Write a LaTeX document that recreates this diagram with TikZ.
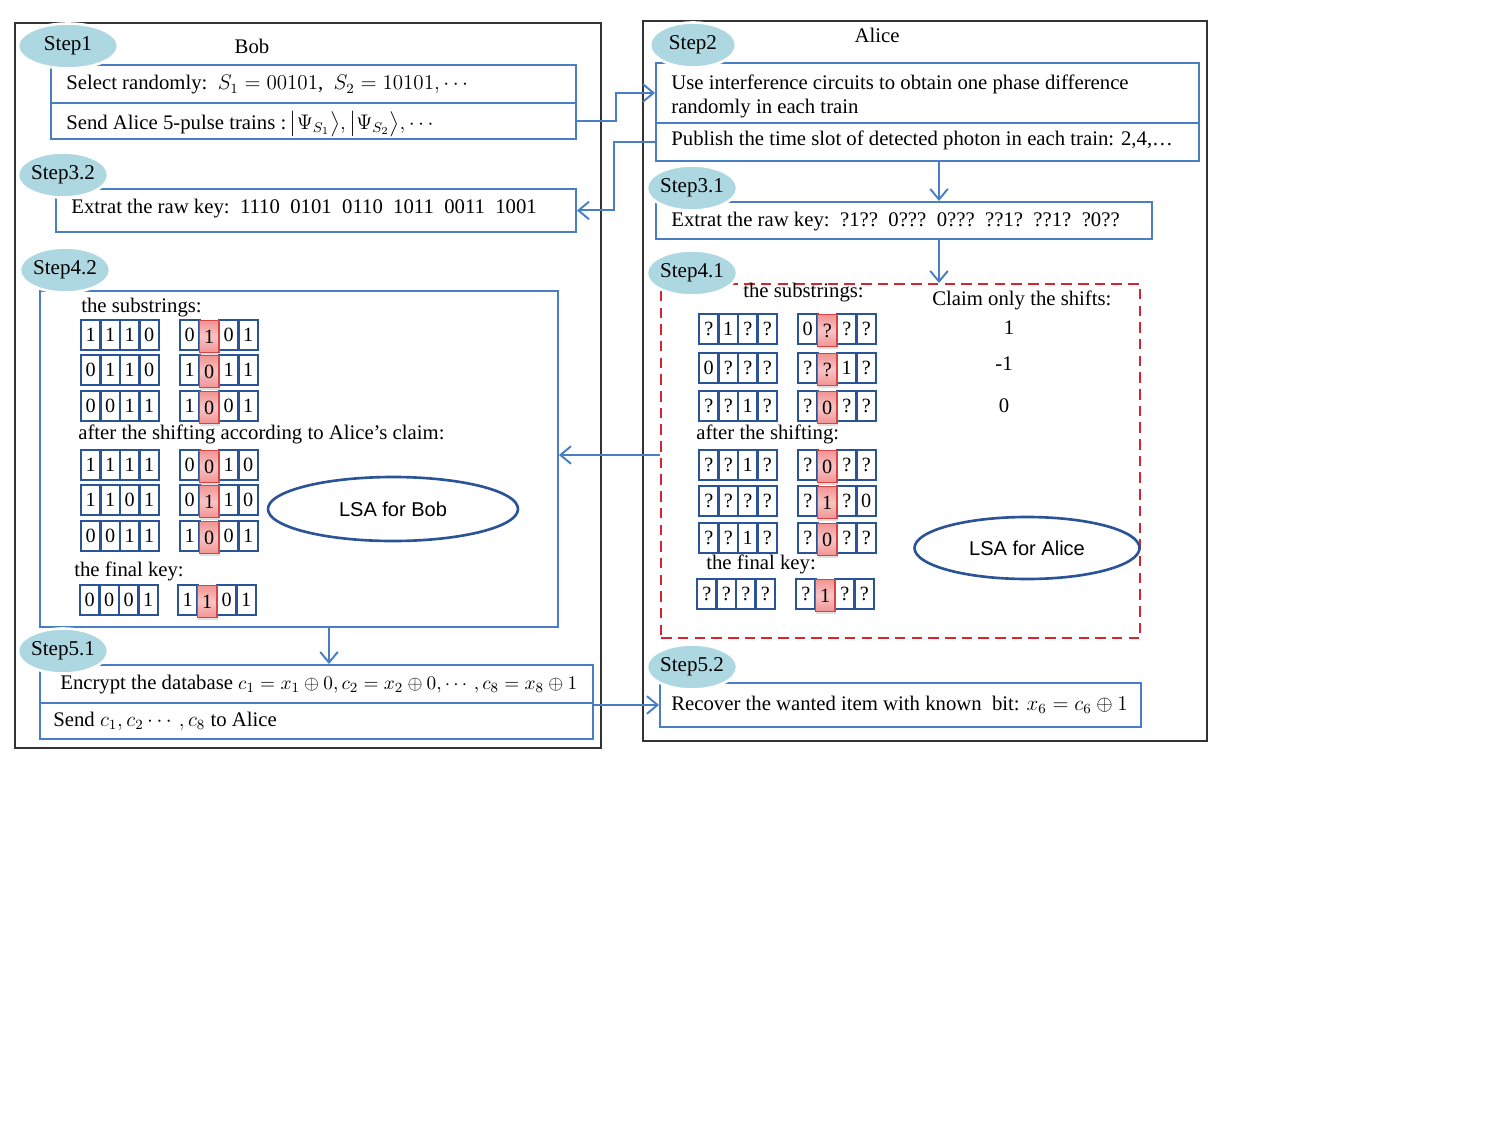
\documentclass[tikz,border=0pt]{standalone}
\usepackage{fontspec}
\setmainfont{Liberation Serif}
\setsansfont{Liberation Sans}
\usepackage{amsmath}
\usetikzlibrary{positioning, shapes.geometric, arrows.meta, shadows}
\definecolor{framegray}{HTML}{333333}
\definecolor{boxblue}{HTML}{4A7EC4}
\definecolor{cellblue}{HTML}{2A5496}
\definecolor{steplight}{HTML}{ADD8E2}
\definecolor{dashred}{HTML}{D9232E}
\definecolor{hlborder}{HTML}{D64545}
\definecolor{hltop}{HTML}{F29393}
\definecolor{hlmid}{HTML}{F8C4C4}

% one pixel of the layout
\newcommand{\pxu}{0.02cm}
% math a little smaller than the text
\newcommand{\smallmath}[1]{{\fontsize{11}{13}\selectfont$#1$}}
% a group of four bit cells, #5 = index of the marked cell (-1: none)
\newcommand{\bitgroup}[5]{%
  \foreach \d [count=\i from 0] in {#4} {%
    \ifnum\i=#5\else \node[bitcell] (#1-\i) at ({#2+9.75+19.5*\i},#3) {\d};\fi}
  \foreach \d [count=\i from 0] in {#4} {%
    \ifnum\i=#5 \node[hlcell] (#1-\i) at ({#2+9.75+19.5*\i},#3+1.5) {\d};\fi}
}

\begin{document}
\begin{tikzpicture}[x=0.02cm, y=-0.02cm, font=\fontsize{11.8}{14}\selectfont,
    frame/.style={draw=framegray, line width=1.1pt, rectangle, anchor=north west, inner sep=0},
    bluebox/.style={draw=boxblue, line width=1.1pt, rectangle, anchor=north west, inner sep=0},
    redbox/.style={draw=dashred, line width=1.4pt, dash pattern=on 6pt off 3.5pt, rectangle, anchor=north west, inner sep=0},
    stepell/.style={ellipse, fill=steplight, draw=white, line width=1.5pt, inner sep=0,
      minimum width=90*\pxu, minimum height=45*\pxu, font=\fontsize{12}{14}\selectfont},
    txt/.style={anchor=west, inner sep=0},
    bitcell/.style={draw=cellblue, line width=1.3pt, minimum width=19.5*\pxu, minimum height=30*\pxu, inner sep=0,
      font=\fontsize{11.5}{13}\selectfont},
    hlcell/.style={draw=hlborder, line width=1pt, top color=hltop, bottom color=hltop, middle color=hlmid,
      minimum width=19.5*\pxu, minimum height=32*\pxu, inner sep=0, font=\fontsize{11.5}{13}\selectfont,
      drop shadow={opacity=0.25, shadow xshift=0.4pt, shadow yshift=-1.2pt}},
    lsa/.style={ellipse, draw=cellblue, line width=1.5pt, inner sep=0, font=\sffamily\fontsize{11.4}{13}\selectfont},
    link/.style={draw=boxblue, line width=1.1pt, -{Straight Barb[length=6pt, width=10pt]}}]

  \useasboundingbox (0,0) rectangle (1500,1125);

  % outer frames
  \node[frame, minimum width=586*\pxu, minimum height=725*\pxu] (bob) at (14,22) {};
  \node[frame, minimum width=564*\pxu, minimum height=720*\pxu] (alice) at (642,20) {};

  % step boxes
  \node[bluebox, minimum width=525*\pxu, minimum height=38*\pxu] (b1a) at (50,64) {};
  \node[bluebox, minimum width=525*\pxu, minimum height=36*\pxu] (b1b) at (50,102) {};
  \node[bluebox, minimum width=543*\pxu, minimum height=60*\pxu] (b2a) at (655,62) {};
  \node[bluebox, minimum width=543*\pxu, minimum height=38*\pxu] (b2b) at (655,122) {};
  \node[bluebox, minimum width=520*\pxu, minimum height=43*\pxu] (b32) at (55,188) {};
  \node[bluebox, minimum width=496*\pxu, minimum height=37*\pxu] (b31) at (655,201) {};
  \node[bluebox, minimum width=518*\pxu, minimum height=336*\pxu] (b42) at (39,290) {};
  \node[redbox, minimum width=479*\pxu, minimum height=354*\pxu] (b41) at (660,283) {};
  \node[bluebox, minimum width=553*\pxu, minimum height=38*\pxu] (b51a) at (39,664) {};
  \node[bluebox, minimum width=553*\pxu, minimum height=36*\pxu] (b51b) at (39,702) {};
  \node[bluebox, minimum width=481*\pxu, minimum height=44*\pxu] (b52) at (659,682) {};

  % step labels
  \node[stepell, minimum width=100*\pxu] (s1) at (68,46) {Step1};
  \node[stepell, minimum width=86*\pxu] (s2) at (693,45) {Step2};
  \node[stepell] (s32) at (63,175) {Step3.2};
  \node[stepell, minimum width=86*\pxu] (s31) at (692,188) {Step3.1};
  \node[stepell] (s42) at (65,270) {Step4.2};
  \node[stepell] (s41) at (692,273) {Step4.1};
  \node[stepell] (s51) at (63,651) {Step5.1};
  \node[stepell, minimum width=88*\pxu] (s52) at (692,667) {Step5.2};

  \node (bobname) at (252,46) {Bob};
  \node (alicename) at (877,35) {Alice};

  % texts in the boxes
  \node[txt] (t1a) at (66,85) {Select randomly:\ \ $S_1=00101$,\ \ $S_2=10101,\cdots$};
  \node[txt] (t1b) at (66,124) {Send Alice 5-pulse trains :\,$\bigl|\Psi_{S_1}\bigr\rangle,\bigl|\Psi_{S_2}\bigr\rangle,\cdots$};
  \node[txt] (t2a) at (671,84) {Use interference circuits to obtain one phase difference};
  \node[txt] (t2c) at (671,109) {randomly in each train};
  \node[txt] (t2b) at (671,140) {Publish the time slot of detected photon in each train: 2,4,\ldots};
  \node[txt] (t32) at (71,209) {Extrat the raw key:\ \ 1110\ \ 0101\ \ 0110\ \ 1011\ \ 0011\ \ 1001};
  \node[txt] (t31) at (671,222) {Extrat the raw key:\ \ ?1??\ \ 0???\ \ 0???\ \ ??1?\ \ ??1?\ \ ?0??};
  \node[txt] (t51a) at (60,685) {Encrypt the database \smallmath{c_1=x_1\oplus 0,c_2=x_2\oplus 0,\cdots,c_8=x_8\oplus 1}};
  \node[txt] (t51b) at (53,721) {Send $c_1,c_2\cdots,c_8$ to Alice};
  \node[txt] (t52) at (671,705) {Recover the wanted item with known\ \ bit: $x_6=c_6\oplus 1$};

  % Bob: substrings
  \node[txt] (bsub) at (81,308) {the substrings:};
  \bitgroup{bs1l}{81}{335}{1,1,1,0}{-1}
  \bitgroup{bs1r}{180}{335}{0,1,0,1}{1}
  \bitgroup{bs2l}{81}{370}{0,1,1,0}{-1}
  \bitgroup{bs2r}{180}{370}{1,0,1,1}{1}
  \bitgroup{bs3l}{81}{406}{0,0,1,1}{-1}
  \bitgroup{bs3r}{180}{406}{1,0,0,1}{1}
  \node[txt] (bshift) at (78,434) {after the shifting according to Alice’s claim:};
  \bitgroup{bh1l}{81}{465}{1,1,1,1}{-1}
  \bitgroup{bh1r}{180}{465}{0,0,1,0}{1}
  \bitgroup{bh2l}{81}{500}{1,1,0,1}{-1}
  \bitgroup{bh2r}{180}{500}{0,1,1,0}{1}
  \bitgroup{bh3l}{81}{536}{0,0,1,1}{-1}
  \bitgroup{bh3r}{180}{536}{1,0,0,1}{1}
  \node[txt] (bfinal) at (74,571) {the final key:};
  \bitgroup{bfl}{80}{600}{0,0,0,1}{-1}
  \bitgroup{bfr}{178}{600}{1,1,0,1}{1}
  \node[lsa, minimum width=250*\pxu, minimum height=64*\pxu] (lsabob) at (393,509) {LSA for Bob};

  % Alice: substrings
  \node[txt] (asub) at (743,293) {the substrings:};
  \node[txt] (aclaim) at (932,300) {Claim only the shifts:};
  \node (sh1) at (1009,328) {1};
  \node (sh2) at (1004,364) {-1};
  \node (sh3) at (1004,406) {0};
  \bitgroup{as1l}{699}{329}{?,1,?,?}{-1}
  \bitgroup{as1r}{798}{329}{0,?,?,?}{1}
  \bitgroup{as2l}{699}{368}{0,?,?,?}{-1}
  \bitgroup{as2r}{798}{368}{?,?,1,?}{1}
  \bitgroup{as3l}{699}{406}{?,?,1,?}{-1}
  \bitgroup{as3r}{798}{406}{?,0,?,?}{1}
  \node[txt] (ashift) at (696,434) {after the shifting:};
  \bitgroup{ah1l}{699}{465}{?,?,1,?}{-1}
  \bitgroup{ah1r}{798}{465}{?,0,?,?}{1}
  \bitgroup{ah2l}{699}{501}{?,?,?,?}{-1}
  \bitgroup{ah2r}{798}{501}{?,1,?,0}{1}
  \bitgroup{ah3l}{699}{538}{?,?,1,?}{-1}
  \bitgroup{ah3r}{798}{538}{?,0,?,?}{1}
  \node[txt] (afinal) at (706,564) {the final key:};
  \bitgroup{afl}{697}{594}{?,?,?,?}{-1}
  \bitgroup{afr}{796}{594}{?,1,?,?}{1}
  \node[lsa, minimum width=225*\pxu, minimum height=62*\pxu] (lsaalice) at (1027,548) {LSA for Alice};

  % connectors
  \coordinate (colA) at (939,0);
  \coordinate (colB) at (329,0);
  \coordinate (rowC) at (0,455);
  \draw[link] (b1b.east) -- ++(39,0) |- (b2a.west);
  \draw[link] (b2b.west) -- ++(-41,0) |- (b32.east);
  \draw[link] (b2b.south -| colA) -- (b31.north -| colA);
  \draw[link] (b31.south -| colA) -- (b41.north -| colA);
  \draw[link] (b41.west |- rowC) -- (b42.east |- rowC);
  \draw[link] (b42.south -| colB) -- (b51a.north -| colB);
  \draw[link] (b52.west -| b51b.east) -- (b52.west);
\end{tikzpicture}
\end{document}
